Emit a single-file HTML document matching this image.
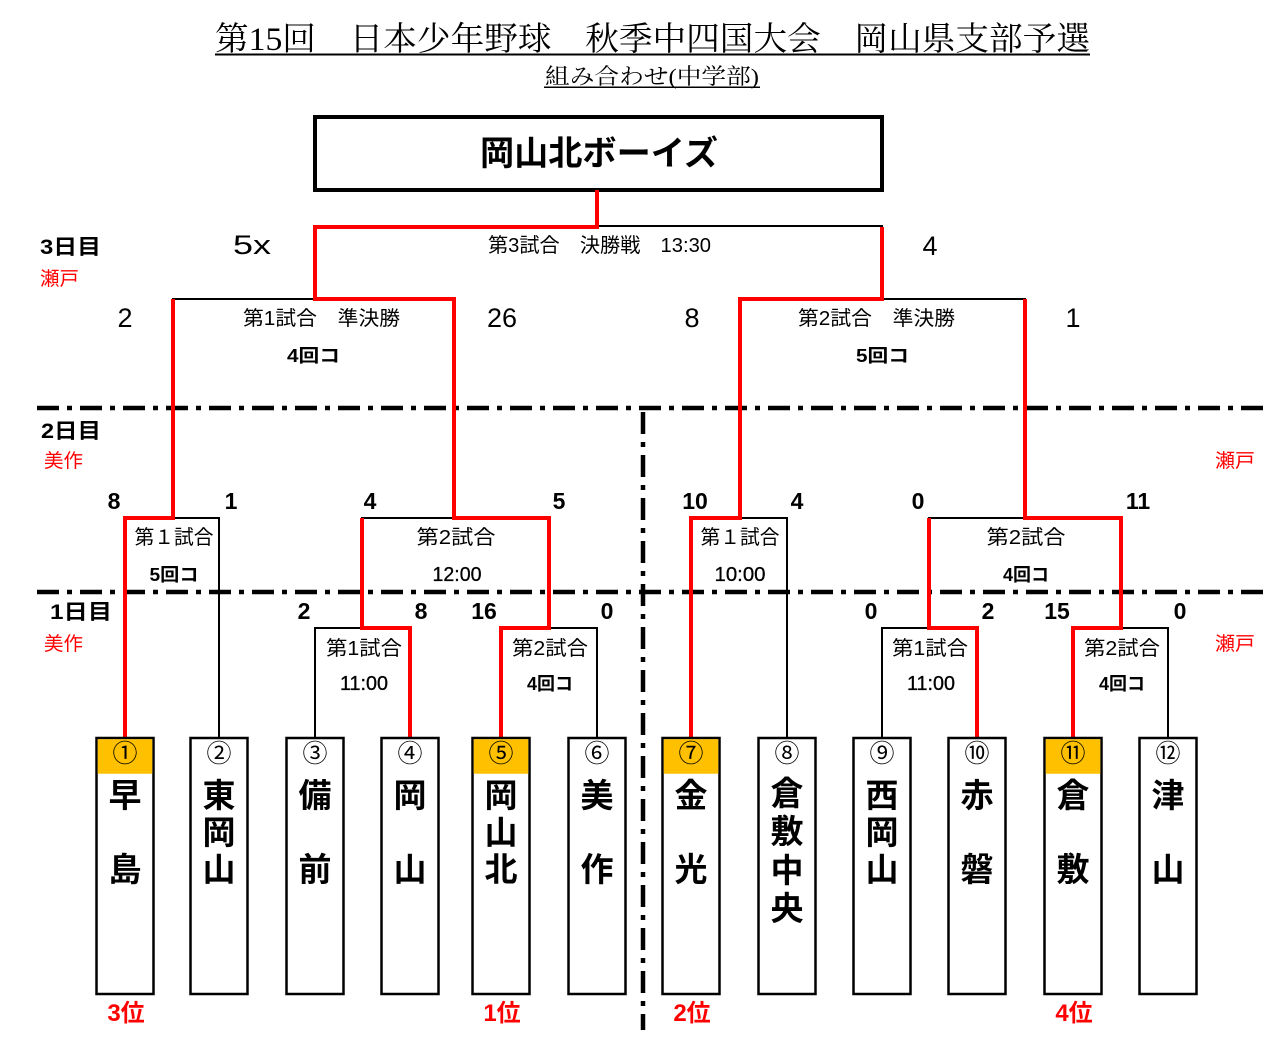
<!DOCTYPE html>
<html><head><meta charset="utf-8">
<style>
html,body{margin:0;padding:0;background:#fff;}
svg{display:block;}
</style></head><body>
<svg width="1280" height="1045" viewBox="0 0 1280 1045" xmlns="http://www.w3.org/2000/svg">
<rect x="0" y="0" width="1280" height="1045" fill="#fff"/>

<!-- Title -->
<g font-family="'Liberation Serif','Noto Serif CJK SC',serif" fill="#000">
  <text x="215" y="50" font-size="33" textLength="875" lengthAdjust="spacingAndGlyphs">第15回　日本少年野球　秋季中四国大会　岡山県支部予選</text>
  <text x="545" y="84" font-size="22" textLength="214" lengthAdjust="spacingAndGlyphs">組み合わせ(中学部)</text>
</g>
<rect x="215" y="53.5" width="875" height="2" fill="#000"/>
<rect x="544" y="86.5" width="216" height="1.5" fill="#000"/>

<!-- Champion box -->
<rect x="315" y="117" width="567" height="73" fill="#fff" stroke="#000" stroke-width="4"/>
<text x="480" y="165" font-family="'Liberation Sans','Noto Sans CJK JP',sans-serif" font-size="34" font-weight="bold" textLength="238" lengthAdjust="spacingAndGlyphs">岡山北ボーイズ</text>

<!-- Dash-dot day separators -->
<g stroke="#000" stroke-width="4.5" stroke-dasharray="22 8 5 8" fill="none">
  <line x1="37" y1="408" x2="1265" y2="408"/>
  <line x1="37" y1="592" x2="1265" y2="592"/>
  <line x1="643" y1="412" x2="643" y2="1030"/>
</g>

<!-- Black bracket lines -->
<g stroke="#000" stroke-width="2" fill="none" stroke-linecap="square">
  <path d="M315 226 H882"/>
  <path d="M173 299 H454"/>
  <path d="M740 299 H1025"/>
  <path d="M125 518 H219 V737"/>
  <path d="M362 518 H549"/>
  <path d="M691 518 H787 V737"/>
  <path d="M929 518 H1121"/>
  <path d="M315 737 V628 H410"/>
  <path d="M501 628 H597 V737"/>
  <path d="M882 737 V628 H977"/>
  <path d="M1073 628 H1168 V737"/>
</g>

<!-- Red winner paths -->
<g stroke="#ff0000" stroke-width="4" fill="none" stroke-linejoin="miter">
  <path d="M501 737 V628 H549 V518 H454 V299 H315 V227 H597 V190"/>
  <path d="M691 737 V518 H740 V299 H882 V227"/>
  <path d="M125 737 V518 H173 V299"/>
  <path d="M1073 737 V628 H1121 V518 H1025 V299"/>
  <path d="M410 737 V628 H362 V518"/>
  <path d="M977 737 V628 H929 V518"/>
</g>

<!-- Team boxes -->
<g stroke="#000" stroke-width="2.5" fill="#fff">
  <rect x="96.5" y="738" width="57" height="256"/>
  <rect x="190.5" y="738" width="57" height="256"/>
  <rect x="286.5" y="738" width="57" height="256"/>
  <rect x="381.5" y="738" width="57" height="256"/>
  <rect x="472.5" y="738" width="57" height="256"/>
  <rect x="568.5" y="738" width="57" height="256"/>
  <rect x="662.5" y="738" width="57" height="256"/>
  <rect x="758.5" y="738" width="57" height="256"/>
  <rect x="853.5" y="738" width="57" height="256"/>
  <rect x="948.5" y="738" width="57" height="256"/>
  <rect x="1044.5" y="738" width="57" height="256"/>
  <rect x="1139.5" y="738" width="57" height="256"/>
</g>
<g fill="#FFC000">
  <rect x="97.75" y="739.25" width="54.5" height="34.5"/>
  <rect x="473.75" y="739.25" width="54.5" height="34.5"/>
  <rect x="663.75" y="739.25" width="54.5" height="34.5"/>
  <rect x="1045.75" y="739.25" width="54.5" height="34.5"/>
</g>

<!-- Circled numbers -->
<g font-family="'Noto Sans CJK JP','Liberation Sans',sans-serif" font-size="25" text-anchor="middle" fill="#000">
  <text x="125" y="762">①</text>
  <text x="219" y="762">②</text>
  <text x="315" y="762">③</text>
  <text x="410" y="762">④</text>
  <text x="501" y="762">⑤</text>
  <text x="597" y="762">⑥</text>
  <text x="691" y="762">⑦</text>
  <text x="787" y="762">⑧</text>
  <text x="882" y="762">⑨</text>
  <text x="977" y="762">⑩</text>
  <text x="1073" y="762">⑪</text>
  <text x="1168" y="762">⑫</text>
</g>

<!-- Team names -->
<g font-family="'Liberation Sans','Noto Sans CJK JP',sans-serif" font-size="33" font-weight="bold" text-anchor="middle" fill="#000">
  <text x="125" y="807">早</text><text x="125" y="881">島</text>
  <text x="219" y="807">東</text><text x="219" y="844">岡</text><text x="219" y="881">山</text>
  <text x="315" y="807">備</text><text x="315" y="881">前</text>
  <text x="410" y="807">岡</text><text x="410" y="881">山</text>
  <text x="501" y="807">岡</text><text x="501" y="844">山</text><text x="501" y="881">北</text>
  <text x="597" y="807">美</text><text x="597" y="881">作</text>
  <text x="691" y="807">金</text><text x="691" y="881">光</text>
  <text x="787" y="805">倉</text><text x="787" y="843">敷</text><text x="787" y="882">中</text><text x="787" y="920">央</text>
  <text x="882" y="807">西</text><text x="882" y="844">岡</text><text x="882" y="881">山</text>
  <text x="977" y="807">赤</text><text x="977" y="881">磐</text>
  <text x="1073" y="807">倉</text><text x="1073" y="881">敷</text>
  <text x="1168" y="807">津</text><text x="1168" y="881">山</text>
</g>

<!-- Rankings -->
<g font-family="'Liberation Sans','Noto Sans CJK JP',sans-serif" font-size="24" font-weight="bold" text-anchor="middle" fill="#ff0000">
  <text x="126" y="1021">3位</text>
  <text x="502" y="1021">1位</text>
  <text x="692" y="1021">2位</text>
  <text x="1074" y="1021">4位</text>
</g>

<!-- Day labels -->
<g font-family="'Liberation Sans','Noto Sans CJK JP',sans-serif" font-size="21" font-weight="bold" fill="#000">
  <text x="40" y="254" textLength="61" lengthAdjust="spacingAndGlyphs">3日目</text>
  <text x="41" y="438" textLength="60" lengthAdjust="spacingAndGlyphs">2日目</text>
  <text x="50" y="619" textLength="62" lengthAdjust="spacingAndGlyphs">1日目</text>
</g>
<g font-family="'Liberation Sans','Noto Sans CJK JP',sans-serif" font-size="19" fill="#ff0000">
  <text x="40" y="285" textLength="39" lengthAdjust="spacingAndGlyphs">瀬戸</text>
  <text x="44" y="467" textLength="39" lengthAdjust="spacingAndGlyphs">美作</text>
  <text x="44" y="650" textLength="39" lengthAdjust="spacingAndGlyphs">美作</text>
  <text x="1215" y="467" textLength="40" lengthAdjust="spacingAndGlyphs">瀬戸</text>
  <text x="1215" y="650" textLength="40" lengthAdjust="spacingAndGlyphs">瀬戸</text>
</g>

<!-- Final / semi scores (regular) -->
<g font-family="'Liberation Sans',sans-serif" font-size="27" fill="#000" text-anchor="middle">
  <text x="252" y="254" textLength="38" lengthAdjust="spacingAndGlyphs">5x</text>
  <text x="930" y="255">4</text>
  <text x="125" y="327">2</text>
  <text x="502" y="327">26</text>
  <text x="692" y="327">8</text>
  <text x="1073" y="327">1</text>
</g>

<!-- Final / semi labels -->
<g font-family="'Liberation Sans','Noto Sans CJK JP',sans-serif" font-size="20" fill="#000">
  <text x="488" y="252" textLength="223" lengthAdjust="spacingAndGlyphs">第3試合　決勝戦　13:30</text>
  <text x="243" y="325" textLength="157" lengthAdjust="spacingAndGlyphs">第1試合　準決勝</text>
  <text x="798" y="325" textLength="157" lengthAdjust="spacingAndGlyphs">第2試合　準決勝</text>
</g>
<g font-family="'Liberation Sans','Noto Sans CJK JP',sans-serif" font-size="18" font-weight="bold" fill="#000">
  <text x="287" y="362" textLength="53" lengthAdjust="spacingAndGlyphs">4回コ</text>
  <text x="856" y="362" textLength="53" lengthAdjust="spacingAndGlyphs">5回コ</text>
</g>

<!-- Round scores -->
<g font-family="'Liberation Sans',sans-serif" font-size="23" font-weight="bold" fill="#000" text-anchor="middle">
  <text x="114" y="509">8</text>
  <text x="231" y="509">1</text>
  <text x="370" y="509">4</text>
  <text x="559" y="509">5</text>
  <text x="695" y="509">10</text>
  <text x="797" y="509">4</text>
  <text x="918" y="509">0</text>
  <text x="1138" y="509">11</text>

  <text x="304" y="619">2</text>
  <text x="421" y="619">8</text>
  <text x="484" y="619">16</text>
  <text x="607" y="619">0</text>
  <text x="871" y="619">0</text>
  <text x="988" y="619">2</text>
  <text x="1057" y="619">15</text>
  <text x="1180" y="619">0</text>
</g>

<!-- Game labels -->
<g font-family="'Liberation Sans','Noto Sans CJK JP',sans-serif" font-size="20" fill="#000" text-anchor="middle">
  <text x="174" y="544" textLength="79" lengthAdjust="spacingAndGlyphs">第１試合</text>
  <text x="456" y="544" textLength="79" lengthAdjust="spacingAndGlyphs">第2試合</text>
  <text x="740" y="544" textLength="79" lengthAdjust="spacingAndGlyphs">第１試合</text>
  <text x="1026" y="544" textLength="79" lengthAdjust="spacingAndGlyphs">第2試合</text>

  <text x="364" y="655" textLength="76" lengthAdjust="spacingAndGlyphs">第1試合</text>
  <text x="550" y="655" textLength="76" lengthAdjust="spacingAndGlyphs">第2試合</text>
  <text x="930" y="655" textLength="76" lengthAdjust="spacingAndGlyphs">第1試合</text>
  <text x="1122" y="655" textLength="76" lengthAdjust="spacingAndGlyphs">第2試合</text>
</g>
<g font-family="'Liberation Sans',sans-serif" font-size="20" fill="#000" text-anchor="middle" stroke="#000" stroke-width="0.3">
  <text x="457" y="581" textLength="49" lengthAdjust="spacingAndGlyphs">12:00</text>
  <text x="740" y="581" textLength="51" lengthAdjust="spacingAndGlyphs">10:00</text>
  <text x="364" y="690" textLength="48" lengthAdjust="spacingAndGlyphs">11:00</text>
  <text x="931" y="690" textLength="48" lengthAdjust="spacingAndGlyphs">11:00</text>
</g>
<g font-family="'Liberation Sans','Noto Sans CJK JP',sans-serif" font-size="18" font-weight="bold" fill="#000" text-anchor="middle">
  <text x="174" y="581" textLength="49" lengthAdjust="spacingAndGlyphs">5回コ</text>
  <text x="1026" y="581" textLength="46" lengthAdjust="spacingAndGlyphs">4回コ</text>
  <text x="550" y="690" textLength="46" lengthAdjust="spacingAndGlyphs">4回コ</text>
  <text x="1122" y="690" textLength="46" lengthAdjust="spacingAndGlyphs">4回コ</text>
</g>
</svg>
</body></html>
